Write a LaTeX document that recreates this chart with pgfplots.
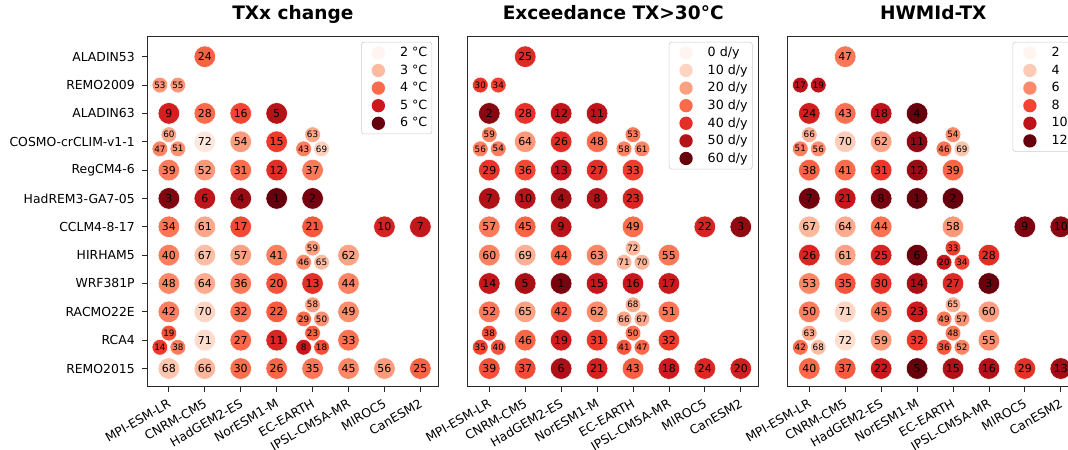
\documentclass[border=0pt]{standalone}
\usepackage{fontspec}
\setmainfont{DejaVu Sans}
\usepackage{pgfplots}
\usepackage{pgfplotstable}
\pgfplotsset{compat=1.18}

\definecolor{frame}{RGB}{40,40,40}
% legend colours (Reds at the legend levels)
\definecolor{rA}{RGB}{255,245,240}
\definecolor{rB}{RGB}{252,187,161}
\definecolor{rC}{RGB}{251,106,74}
\definecolor{rD}{RGB}{203,24,29}
\definecolor{rE}{RGB}{103,0,13}
\definecolor{sA}{RGB}{255,245,240}
\definecolor{sB}{RGB}{253,212,194}
\definecolor{sC}{RGB}{252,160,130}
\definecolor{sD}{RGB}{251,106,74}
\definecolor{sE}{RGB}{227,47,39}
\definecolor{sF}{RGB}{178,18,24}
\definecolor{sG}{RGB}{103,0,13}
\definecolor{tA}{RGB}{255,245,240}
\definecolor{tB}{RGB}{253,202,181}
\definecolor{tC}{RGB}{252,138,106}
\definecolor{tD}{RGB}{241,68,50}
\definecolor{tE}{RGB}{188,20,26}
\definecolor{tF}{RGB}{103,0,13}

\newcommand{\legcirc}[1]{\addlegendimage{legend image code/.code={\path[draw=none] (-9.25pt,-5pt) rectangle (5pt,5pt); \fill[draw=none,#1] (0pt,0pt) circle (5pt);}}}

% ---------------- data: x y v(colour value) r(rank label) ----------------
\pgfplotstableread{
x y v r
1 0 4.08 24
0 2 4.90 9
1 2 4.00 28
2 2 4.38 16
3 2 5.30 5
1 3 2.30 72
2 3 3.38 54
3 3 4.50 15
0 4 3.78 39
1 4 3.42 52
2 4 3.94 31
3 4 4.70 12
4 4 3.80 37
0 5 5.80 3
1 5 5.15 6
2 5 5.60 4
3 5 6.00 1
4 5 5.90 2
0 6 3.85 34
1 6 3.25 61
2 6 4.35 17
4 6 4.20 21
6 6 4.85 10
7 6 5.10 7
0 7 3.75 40
1 7 2.95 67
2 7 3.33 57
3 7 3.74 41
5 7 3.30 62
0 8 3.62 48
1 8 3.20 64
2 8 3.83 36
3 8 4.25 20
4 8 4.65 13
5 8 3.70 44
0 9 3.73 42
1 9 2.65 70
2 9 3.92 32
3 9 4.15 22
5 9 3.55 49
1 10 2.55 71
2 10 4.02 27
3 10 4.80 11
5 10 3.90 33
0 11 2.85 68
1 11 3.05 66
2 11 3.95 30
3 11 4.04 26
4 11 3.84 35
5 11 3.62 45
6 11 3.38 56
7 11 4.06 25
}\pOneBig
\pgfplotstableread{
x y v r
-0.25 1 3.45 53
0.25 1 3.44 55
0 2.75 3.26 60
-0.25 3.25 3.68 47
0.25 3.25 3.50 51
4 2.75 3.25 63
3.75 3.25 3.72 43
4.25 3.25 2.70 69
4 6.75 3.33 59
3.75 7.25 3.60 46
4.25 7.25 3.00 65
4 8.75 3.37 58
3.75 9.25 3.96 29
4.25 9.25 3.50 50
0 9.75 4.27 19
-0.25 10.25 4.55 14
0.25 10.25 3.76 38
4 9.75 4.13 23
3.75 10.25 5.05 8
4.25 10.25 4.30 18
}\pOneSmall

\pgfplotstableread{
x y v r
1 0 41 25
0 2 56 2
1 2 39.5 28
2 2 47.5 12
3 2 48 11
1 3 21 64
2 3 40.5 26
3 3 29.5 48
0 4 39 29
1 4 35.5 36
2 4 47 13
3 4 40 27
4 4 37 33
0 5 50.5 7
1 5 48.5 10
2 5 53 4
3 5 50 8
4 5 42 23
0 6 27 57
1 6 31 45
2 6 49 9
4 6 29 49
6 6 42.5 22
7 6 55 3
0 7 25.5 60
1 7 17 69
2 7 31.5 44
3 7 24.5 63
5 7 27.5 55
0 8 46.5 14
1 8 52 5
2 8 58 1
3 8 46 15
4 8 45.5 16
5 8 45 17
0 9 27.5 52
1 9 19.5 65
2 9 32.5 42
3 9 23.5 62
5 9 28 51
1 10 30.5 46
2 10 44 19
3 10 38 31
5 10 37.5 32
0 11 34 39
1 11 35 37
2 11 51 6
3 11 43 21
4 11 32 43
5 11 44.5 18
6 11 41.5 24
7 11 43.5 20
}\pTwoBig
\pgfplotstableread{
x y v r
-0.25 1 38.5 30
0.25 1 36.5 34
0 2.75 25.5 59
-0.25 3.25 26 56
0.25 3.25 26.5 54
4 2.75 27 53
3.75 3.25 25 58
4.25 3.25 25 61
4 6.75 15.7 72
3.75 7.25 16 71
4.25 7.25 16.3 70
4 8.75 18 68
3.75 9.25 18.5 66
4.25 9.25 18.2 67
0 9.75 34.5 38
-0.25 10.25 36 35
0.25 10.25 33.5 40
4 9.75 28.5 50
3.75 10.25 33 41
4.25 10.25 30 47
}\pTwoSmall

\pgfplotstableread{
x y v r
1 0 6.6 47
0 2 9.3 24
1 2 6.8 43
2 2 10.0 18
3 2 12.1 4
1 3 3.9 70
2 3 5.2 62
3 3 11.2 11
0 4 7.2 38
1 4 6.9 41
2 4 8.4 31
3 4 11.0 12
4 4 7.1 39
0 5 11.8 7
1 5 9.6 21
2 5 11.7 8
3 5 12.6 1
4 5 12.4 2
0 6 4.6 67
1 6 5.0 64
2 6 6.75 44
4 6 5.6 58
6 6 11.6 9
7 6 11.3 10
0 7 9.0 26
1 7 5.3 61
2 7 9.1 25
3 7 11.9 6
5 7 8.7 28
0 8 6.1 53
1 8 7.6 35
2 8 8.5 30
3 8 10.6 14
4 8 8.9 27
5 8 12.2 3
0 9 6.4 50
1 9 3.6 71
2 9 6.7 45
3 9 9.4 23
5 9 5.4 60
1 10 3.3 72
2 10 5.5 59
3 10 8.3 32
5 10 5.9 55
0 11 7.0 40
1 11 7.4 37
2 11 9.5 22
3 11 12.0 5
4 11 10.4 15
5 11 10.3 16
6 11 8.6 29
7 11 10.8 13
}\pThreeBig
\pgfplotstableread{
x y v r
-0.25 1 10.1 17
0.25 1 9.9 19
0 2.75 4.8 66
-0.25 3.25 6.3 51
0.25 3.25 5.8 56
4 2.75 6.0 54
3.75 3.25 6.65 46
4.25 3.25 4.2 69
4 6.75 8.2 33
3.75 7.25 9.7 20
4.25 7.25 8.1 34
4 8.75 4.9 65
3.75 9.25 6.45 49
4.25 9.25 5.7 57
0 9.75 5.1 63
-0.25 10.25 6.85 42
0.25 10.25 4.4 68
4 9.75 6.5 48
3.75 10.25 7.5 36
4.25 10.25 6.2 52
}\pThreeSmall

\pgfplotsset{
  colormap={reds}{rgb255=(255,245,240) rgb255=(254,224,210) rgb255=(252,187,161) rgb255=(252,146,114) rgb255=(251,106,74) rgb255=(239,59,44) rgb255=(203,24,29) rgb255=(165,15,21) rgb255=(103,0,13)},
  panel/.style={
    scale only axis, width=218.25pt, height=263pt,
    anchor=south west,
    xmin=-0.6, xmax=7.5, ymin=-0.73, ymax=11.64, y dir=reverse,
    axis line style={frame, line width=0.6pt},
    xtick={0,...,7},
    xticklabels={MPI-ESM-LR,CNRM-CM5,HadGEM2-ES,NorESM1-M,EC-EARTH,IPSL-CM5A-MR,MIROC5,CanESM2},
    xtick pos=left, ytick pos=left, tick align=outside, major tick length=3.75pt,
    tick style={frame, line width=0.6pt},
    xticklabel style={font=\fontsize{9.3}{11}\selectfont, rotate=30, anchor=north east, inner sep=0pt, xshift=-3.5pt, yshift=-3.5pt},
    ytick=\empty,
    title style={font=\fontsize{13.9}{16}\selectfont\bfseries, at={(0.5,1)}, anchor=base, yshift=6.2pt},
    colormap name=reds,
    clip=false,
    legend cell align=left,
    legend style={at={(0.979,0.983)}, anchor=north east, draw=black!20, rounded corners=2pt, fill=white,
      inner xsep=3.5pt, inner ysep=3pt, font=\fontsize{9.5}{11}\selectfont, row sep=3.2pt,
      nodes={inner sep=0pt},
      /tikz/every odd column/.append style={column sep=11.25pt}},
  },
  dots/.style={scatter, only marks, mark=*, scatter src=explicit,
     scatter/use mapped color={draw=white, fill=mapped color, line width=0.4pt}},
  labs/.style={only marks, mark=none, point meta=explicit symbolic,
     nodes near coords,
     every node near coord/.append style={text=black, inner sep=0pt, anchor=center}},
  bigdots/.style={dots, mark size=8.1pt},
  smalldots/.style={dots, mark size=5.9pt},
  biglabs/.style={labs, every node near coord/.append style={font=\fontsize{8.2}{9}\selectfont}},
  smalllabs/.style={labs, every node near coord/.append style={font=\fontsize{6.6}{7.5}\selectfont}},
}

\begin{document}
\begin{tikzpicture}
\useasboundingbox (0,0) rectangle (801pt,337.5pt);
\clip (0,0) rectangle (801pt,337.5pt);

\begin{axis}[panel, at={(110.5pt,47.5pt)}, title={TXx change},
  point meta min=2, point meta max=6,
  ytick={0,...,11},
  yticklabels={ALADIN53,REMO2009,ALADIN63,COSMO-crCLIM-v1-1,RegCM4-6,HadREM3-GA7-05,CCLM4-8-17,HIRHAM5,WRF381P,RACMO22E,RCA4,REMO2015},
  yticklabel style={font=\fontsize{9.3}{11}\selectfont, anchor=east, inner sep=0pt, xshift=-5.5pt}]
\legcirc{rA}\addlegendentry{2 °C}
\legcirc{rB}\addlegendentry{3 °C}
\legcirc{rC}\addlegendentry{4 °C}
\legcirc{rD}\addlegendentry{5 °C}
\legcirc{rE}\addlegendentry{6 °C}
\addplot[bigdots] table[x=x, y=y, meta=v] {\pOneBig};
\addplot[smalldots] table[x=x, y=y, meta=v] {\pOneSmall};
\addplot[biglabs] table[x=x, y=y, meta=r] {\pOneBig};
\addplot[smalllabs] table[x=x, y=y, meta=r] {\pOneSmall};
\end{axis}

\begin{axis}[panel, at={(350.8pt,47.5pt)}, title={Exceedance TX>30°C},
  point meta min=0, point meta max=60]
\legcirc{sA}\addlegendentry{0 d/y}
\legcirc{sB}\addlegendentry{10 d/y}
\legcirc{sC}\addlegendentry{20 d/y}
\legcirc{sD}\addlegendentry{30 d/y}
\legcirc{sE}\addlegendentry{40 d/y}
\legcirc{sF}\addlegendentry{50 d/y}
\legcirc{sG}\addlegendentry{60 d/y}
\addplot[bigdots] table[x=x, y=y, meta=v] {\pTwoBig};
\addplot[smalldots] table[x=x, y=y, meta=v] {\pTwoSmall};
\addplot[biglabs] table[x=x, y=y, meta=r] {\pTwoBig};
\addplot[smalllabs] table[x=x, y=y, meta=r] {\pTwoSmall};
\end{axis}

\begin{axis}[panel, at={(590.8pt,47.5pt)}, title={HWMId-TX},
  point meta min=2, point meta max=12]
\legcirc{tA}\addlegendentry{2}
\legcirc{tB}\addlegendentry{4}
\legcirc{tC}\addlegendentry{6}
\legcirc{tD}\addlegendentry{8}
\legcirc{tE}\addlegendentry{10}
\legcirc{tF}\addlegendentry{12}
\addplot[bigdots] table[x=x, y=y, meta=v] {\pThreeBig};
\addplot[smalldots] table[x=x, y=y, meta=v] {\pThreeSmall};
\addplot[biglabs] table[x=x, y=y, meta=r] {\pThreeBig};
\addplot[smalllabs] table[x=x, y=y, meta=r] {\pThreeSmall};
\end{axis}
\end{tikzpicture}
\end{document}
